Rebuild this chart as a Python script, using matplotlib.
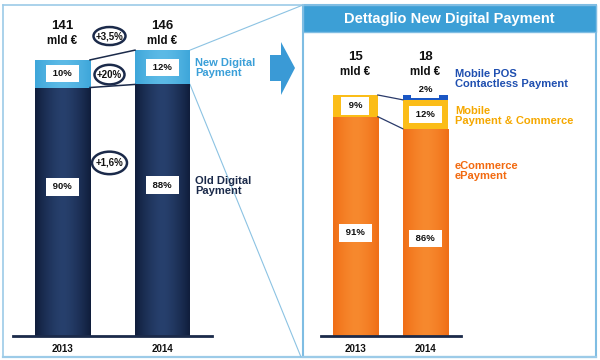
import matplotlib
matplotlib.use('Agg')
import matplotlib.pyplot as plt
import numpy as np
from matplotlib.patches import Ellipse, Rectangle, Polygon
from matplotlib.colors import LinearSegmentedColormap

plt.rcParams['font.family'] = ['Liberation Sans', 'DejaVu Sans']

# ---------------- data ----------------
years = ['2013', '2014']
totals_left = [141, 146]          # mld €
new_share = [10, 12]              # % New Digital Payment
old_share = [90, 88]              # % Old Digital Payment
growth_labels = ['+3,5%', '+20%', '+1,6%']

totals_right = [15, 18]           # mld €
ecommerce_share = [91, 86]        # eCommerce ePayment
mobile_share = [9, 12]            # Mobile Payment & Commerce
pos_share = [0, 2]                # Mobile POS Contactless Payment

title_right = 'Dettaglio New Digital Payment'
lab_new = 'New Digital\nPayment'
lab_old = 'Old Digital\nPayment'
lab_pos = 'Mobile POS\nContactless Payment'
lab_mob = 'Mobile\nPayment & Commerce'
lab_eco = 'eCommerce\nePayment'

# ---------------- style ----------------
NAVY = '#1c2f57'
LBLUE = '#4eb2e2'
ORANGE = '#f47b20'
YELLOW = '#fbbd18'
POSBLUE = '#1a56c4'
BAND = '#3c9fd6'
BORDER = '#9ccbe8'
DARK = '#1b2a4a'

W, H = 600, 360
fig = plt.figure(figsize=(6, 3.6), dpi=100)
fig.patch.set_facecolor('white')

def px_axes(x0, x1, y_top, y_bot, z):
    ax = fig.add_axes([x0 / W, 1 - y_bot / H, (x1 - x0) / W, (y_bot - y_top) / H])
    ax.set_zorder(z)
    return ax

# overlay in pixel coordinates (decorations)
ov = fig.add_axes([0, 0, 1, 1])
ov.set_zorder(0)
ov.set_xlim(0, W)
ov.set_ylim(H, 0)
ov.axis('off')

axL = px_axes(13, 212, 0, 336, 2)
axR = px_axes(321, 461, 0, 336, 2)
for ax in (axL, axR):
    ax.patch.set_alpha(0)
    for s in ('top', 'left', 'right'):
        ax.spines[s].set_visible(False)
    ax.spines['bottom'].set_color(DARK)
    ax.spines['bottom'].set_linewidth(2)
    ax.set_yticks([])
    ax.tick_params(axis='x', length=0, pad=6)

x = np.arange(len(years))
wL = 0.55
wR = 0.643

def shade(ax, bars, colors):
    cmap = LinearSegmentedColormap.from_list('g', colors)
    grad = np.abs(np.linspace(-1, 1, 64))[None, :]
    grad = 1 - grad ** 1.5
    for b in bars:
        x0, y0 = b.get_x(), b.get_y()
        w, h = b.get_width(), b.get_height()
        if h <= 0:
            continue
        im = ax.imshow(grad, extent=(x0, x0 + w, y0, y0 + h), aspect='auto',
                       cmap=cmap, vmin=0, vmax=1, zorder=b.get_zorder() + 0.1,
                       interpolation='bicubic')
        im.set_clip_path(b)

old_vals = [t * s / 100 for t, s in zip(totals_left, old_share)]
new_vals = [t * s / 100 for t, s in zip(totals_left, new_share)]

b_old = axL.bar(x, old_vals, wL, color=NAVY, zorder=2)
b_new = axL.bar(x, new_vals, wL, bottom=old_vals, color=LBLUE, zorder=2)
shade(axL, b_old, ['#101e3c', '#27406d'])
shade(axL, b_new, ['#3ea6da', '#5cbae6'])
axL.set_xlim(-0.495, 1.495)
axL.set_ylim(0, 336 / 1.958)
axL.set_xticks(x)
axL.set_xticklabels(years, fontsize=7, fontweight='bold', color='#111111')

b_eco = axR.bar(x, ecommerce_share, wR, color=ORANGE, zorder=2)
b_mob = axR.bar(x, mobile_share, wR, bottom=ecommerce_share, color=YELLOW, zorder=2)
pos_bottom = [e + m for e, m in zip(ecommerce_share, mobile_share)]
b_pos = axR.bar(x, pos_share, wR, bottom=pos_bottom, color=POSBLUE, zorder=2)
shade(axR, b_eco, ['#f06e16', '#f7892e'])
axR.set_xlim(-0.49, 1.51)
axR.set_ylim(0, 336 / 2.41)
axR.set_xticks(x)
axR.set_xticklabels(years, fontsize=7, fontweight='bold', color='#111111')

# connectors between bars
axL.plot([x[0] + wL / 2, x[1] - wL / 2], [totals_left[0], totals_left[1]], color=DARK, lw=1.1, zorder=3)
axL.plot([x[0] + wL / 2, x[1] - wL / 2], [old_vals[0], old_vals[1]], color=DARK, lw=1.1, zorder=3)
axR.plot([x[0] + wR / 2, x[1] - wR / 2], [pos_bottom[0], pos_bottom[1]], color='#2a3a6a', lw=0.9, zorder=3)
axR.plot([x[0] + wR / 2, x[1] - wR / 2], [ecommerce_share[0], ecommerce_share[1]], color='#2a3a6a', lw=0.9, zorder=3)

box = dict(boxstyle='square,pad=0.45', fc='white', ec='none')
lab_kw = dict(ha='center', va='center', fontsize=6.8, fontweight='bold', color='#111111', bbox=box, zorder=5)

def pct(v):
    return f' {v}% '

for i in range(len(years)):
    axL.text(x[i], old_vals[i] + new_vals[i] / 2, pct(new_share[i]), **lab_kw)
    axL.text(x[i], old_vals[i] * 0.6, pct(old_share[i]), **lab_kw)
    axL.text(x[i], 158.5, f'{totals_left[i]}', ha='center', va='center', fontsize=9.5,
             fontweight='bold', color='#111111')
    axL.text(x[i], 150.5, 'mld €', ha='center', va='center', fontsize=8.3,
             fontweight='bold', color='#111111')

    axR.text(x[i], ecommerce_share[i] * 0.47, pct(ecommerce_share[i]), **lab_kw)
    axR.text(x[i], ecommerce_share[i] + mobile_share[i] / 2, pct(mobile_share[i]), **lab_kw)
    if pos_share[i] > 0:
        axR.text(x[i], 102.4, pct(pos_share[i]), **lab_kw)
    axR.text(x[i], 115.8, f'{totals_right[i]}', ha='center', va='center', fontsize=9.5,
             fontweight='bold', color='#111111')
    axR.text(x[i], 109.6, 'mld €', ha='center', va='center', fontsize=8.3,
             fontweight='bold', color='#111111')

# growth ellipses
ell_y = [153.2, 133.5, 88.4]
ell_w = [0.32, 0.30, 0.35]
ell_h = [9.2, 10.0, 11.5]
for lab, yy, ew, eh in zip(growth_labels, ell_y, ell_w, ell_h):
    axL.add_patch(Ellipse((0.47, yy), ew, eh, fc='white', ec=DARK, lw=1.8, zorder=4, clip_on=False))
    axL.text(0.47, yy, lab, ha='center', va='center', fontsize=7, fontweight='bold',
             color='#111111', zorder=5)

# ---------------- decorations ----------------
ov.plot([3, 303], [5, 5], color=BORDER, lw=1.2)
ov.plot([3, 3], [5, 357], color=BORDER, lw=1.2)
ov.plot([3, 596], [357, 357], color=BORDER, lw=1.6)
ov.add_patch(Rectangle((303, 5), 293, 352, fc='none', ec='#7fbde3', lw=1.5))
ov.add_patch(Rectangle((303, 5), 293, 27, fc=BAND, ec='#7fbde3', lw=1.0))
ov.text(449.5, 19, title_right, ha='center', va='center', color='white', fontsize=10.5,
        fontweight='bold')

# diagonal zoom lines from the 2014 "new" segment to the detail panel
inv = ov.transData.inverted()
p1 = inv.transform(axL.transData.transform((x[1] + wL / 2, totals_left[1])))
p2 = inv.transform(axL.transData.transform((x[1] + wL / 2, old_vals[1])))
ov.plot([p1[0], 303], [p1[1], 5], color='#8cc3e3', lw=0.8)
ov.plot([p2[0], 301], [p2[1], 357], color='#8cc3e3', lw=0.8)

# arrow
ov.add_patch(Polygon([(270, 55), (281, 55), (281, 42), (295, 68), (281, 95), (281, 81), (270, 81)],
                     closed=True, fc='#3a9ad6', ec='none'))

# series labels
side_kw = dict(ha='left', va='center', fontsize=8, fontweight='bold', linespacing=0.95)
ov.text(195, 68, lab_new, color='#3a9fd8', **side_kw)
ov.text(195, 186, lab_old, color='#1b2a4a', **side_kw)
ov.text(455, 79, lab_pos, color='#1f4fb0', **side_kw)
ov.text(455, 116, lab_mob, color='#f5a800', **side_kw)
ov.text(455, 171, lab_eco, color='#f26a10', **side_kw)

fig.savefig('out.png', dpi=100)
